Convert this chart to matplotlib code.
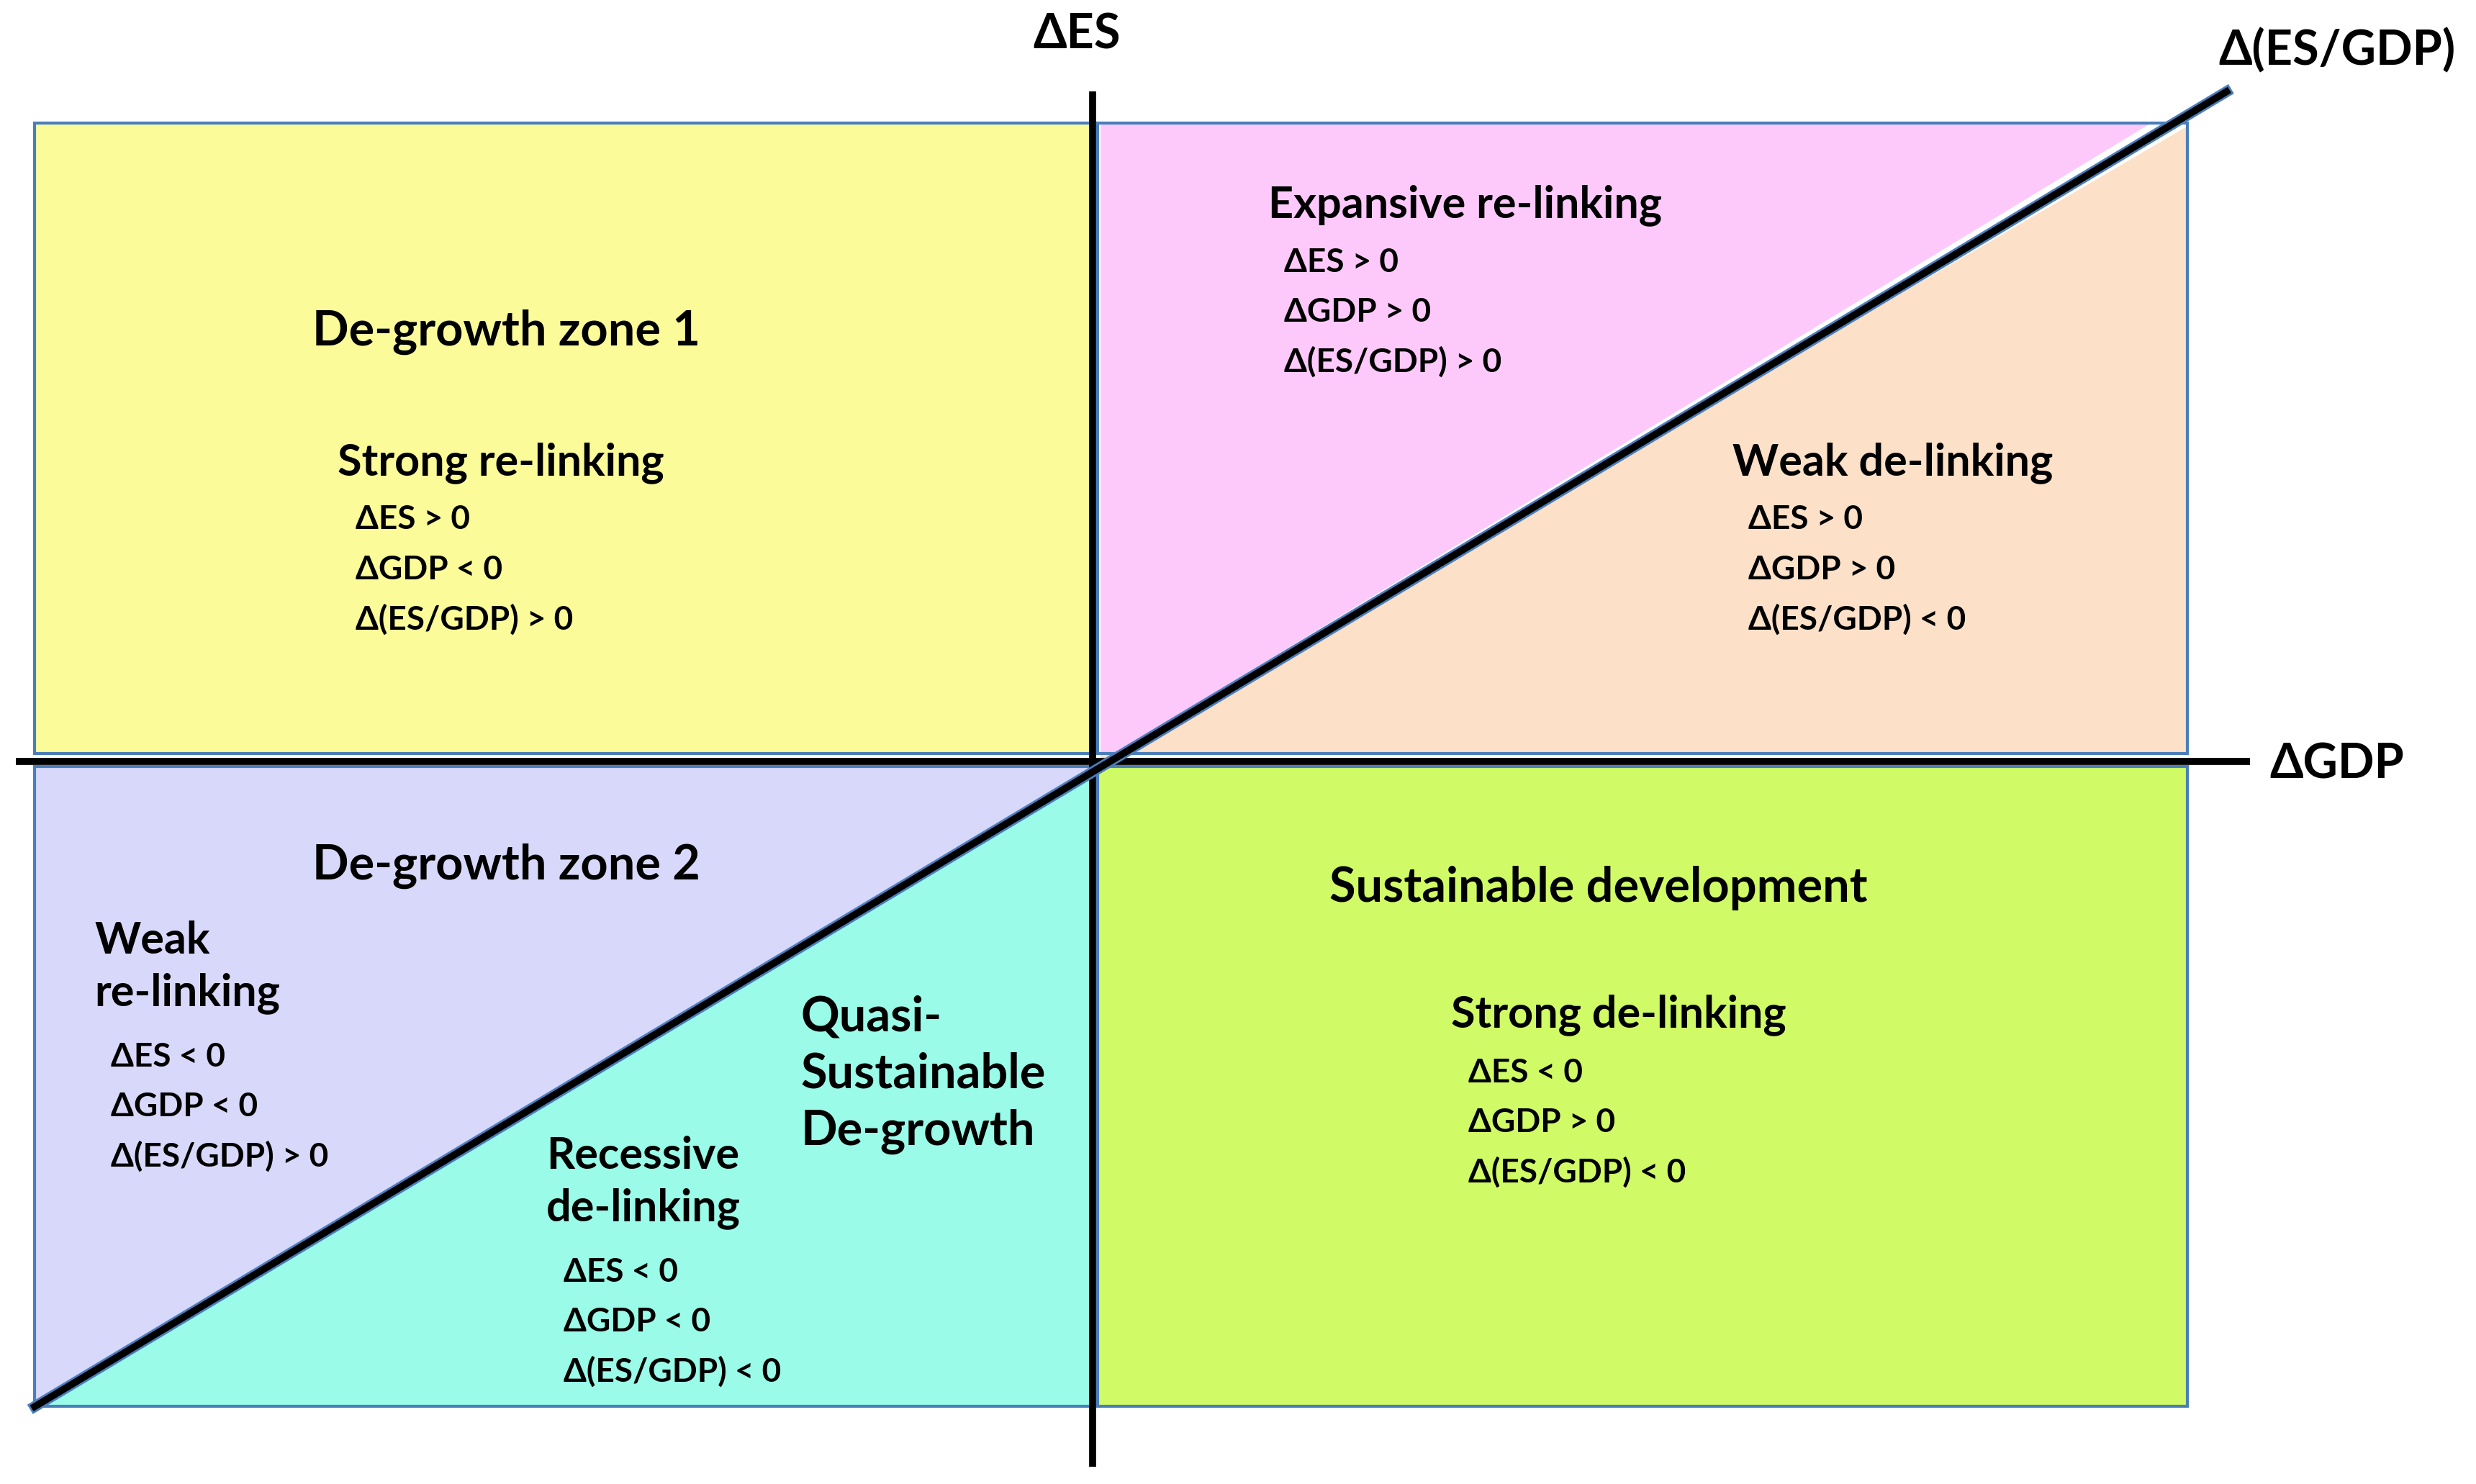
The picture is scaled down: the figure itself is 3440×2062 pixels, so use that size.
import matplotlib
matplotlib.use("Agg")
import matplotlib.pyplot as plt
from matplotlib.patches import Polygon

plt.rcParams['font.family'] = ['Lato', 'DejaVu Sans']

# Region polygons in diagram coordinates (display pixel space)
regions = {
    "yellow":   ([(22, 78), (692, 78), (692, 477), (22, 477)], "#FBFB99"),
    "pink":     ([(697, 78), (1362, 78), (697, 482)], "#FDC9FB"),
    "peach":    ([(697, 482), (1385, 80), (1385, 477), (697, 477)], "#FCE0C8"),
    "lavender": ([(22, 485), (692, 485), (22, 890)], "#D8D8FB"),
    "cyan":     ([(22, 890), (692, 485), (692, 890)], "#99FBE8"),
    "green":    ([(695, 485), (1385, 485), (1385, 890), (695, 890)], "#D0FB66"),
}
boxes = [(22, 78, 692, 477), (695, 78, 1385, 477), (22, 485, 692, 890), (695, 485, 1385, 890)]

titles = [
    ("De-growth zone 1", 198, 210),
    ("Strong re-linking", 214, 293),
    ("Expansive re-linking", 803, 130),
    ("Weak de-linking", 1097, 293),
    ("De-growth zone 2", 198, 548),
    ("Weak\nre-linking", 60, 612),
    ("Recessive\nde-linking", 346, 748),
    ("Quasi-\nSustainable\nDe-growth", 507, 680),
    ("Sustainable development", 842, 562),
    ("Strong de-linking", 919, 642),
]
big = {"De-growth zone 1", "De-growth zone 2", "Sustainable development", "Quasi-\nSustainable\nDe-growth"}
conditions = [
    (["ΔES > 0", "ΔGDP < 0", "Δ(ES/GDP) > 0"], 225, 329),
    (["ΔES > 0", "ΔGDP > 0", "Δ(ES/GDP) > 0"], 813, 166),
    (["ΔES > 0", "ΔGDP > 0", "Δ(ES/GDP) < 0"], 1107, 329),
    (["ΔES < 0", "ΔGDP < 0", "Δ(ES/GDP) > 0"], 70, 669),
    (["ΔES < 0", "ΔGDP < 0", "Δ(ES/GDP) < 0"], 357, 805),
    (["ΔES < 0", "ΔGDP > 0", "Δ(ES/GDP) < 0"], 930, 679),
]
axis_labels = [("ΔES", 682, 22), ("ΔGDP", 1480, 484), ("Δ(ES/GDP)", 1480, 32)]

fig = plt.figure(figsize=(17.2, 10.31), dpi=200)
ax = fig.add_axes([0, 0, 1, 1])
ax.set_xlim(0, 1568)
ax.set_ylim(939, 0)
ax.axis("off")

for pts, c in regions.values():
    ax.add_patch(Polygon(pts, closed=True, facecolor=c, edgecolor="none"))
for x0, y0, x1, y1 in boxes:
    ax.add_patch(Polygon([(x0, y0), (x1, y0), (x1, y1), (x0, y1)], closed=True,
                         facecolor="none", edgecolor="#4A7EBB", lw=1.5))

ax.plot([10, 1425], [482, 482], color="black", lw=3.5, solid_capstyle="butt")
ax.plot([692, 692], [58, 928], color="black", lw=3.5, solid_capstyle="butt")
ax.plot([22, 1410], [890, 58], color="#4A7EBB", lw=5.5)
ax.plot([22, 1410], [890, 58], color="black", lw=3.5)

for t, x, y in titles:
    fs = 24 if t in big else 22
    ax.text(x, y, t, fontsize=fs, fontweight="bold", ha="left", va="center", linespacing=1.35)
for lines, x, y in conditions:
    for i, s in enumerate(lines):
        ax.text(x, y + i * 31.5, s, fontsize=16.5, fontweight="bold", ha="left", va="center")
for t, x, y in axis_labels:
    ax.text(x, y, t, fontsize=24, fontweight="bold", ha="center", va="center")

fig.savefig("out.png", dpi=200, facecolor="white")
